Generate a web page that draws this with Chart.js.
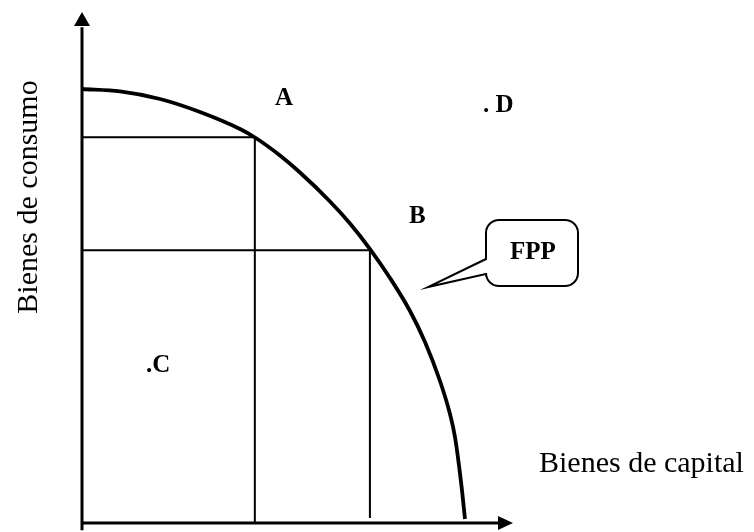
<!DOCTYPE html>
<html>
<head>
<meta charset="utf-8">
<script src="https://cdn.jsdelivr.net/npm/chart.js@4/dist/chart.umd.min.js"></script>
<style>
  html, body { margin: 0; padding: 0; background: #fff; }
  canvas { display: block; }
</style>
</head>
<body>
<canvas id="fpp" width="754" height="532"></canvas>
<script>
// frontera de posibilidades de produccion (escala 0-100)
const capitalGoods = [0, 8.82, 18.1, 27.38, 36.66, 40.14, 45.94, 50.58, 57.54, 62.18, 66.82, 71.46, 76.1, 79.58, 83.06, 85.38, 86.54, 88.05, 88.86];
const consumerGoods = [84.93, 84.46, 82.97, 80.43, 77.1, 75.44, 71.92, 68.59, 62.92, 58.61, 53.62, 47.95, 41.49, 35.42, 27.79, 21.33, 16.83, 7.24, 0.78];

// combinaciones A y B sobre la frontera (lineas guia)
const guideNames = ['A', 'B'];
const guideX = [40.1, 66.8];
const guideY = [75.5, 53.4];
const guideBottom = [0, 1.0];

const frontier = capitalGoods.map((v, i) => ({ x: v, y: consumerGoods[i] }));

const guides = guideNames.map((name, i) => ({
  label: 'guia ' + name,
  data: [
    { x: 0, y: guideY[i] },
    { x: guideX[i], y: guideY[i] },
    { x: guideX[i], y: guideBottom[i] }
  ],
  borderColor: '#000',
  borderWidth: 2,
  pointRadius: 0,
  tension: 0,
  clip: false
}));

const axisStyle = {
  borderColor: '#000',
  borderWidth: 3,
  pointRadius: 0,
  clip: false
};

// flechas, textos y globo "FPP"
const drawExtras = {
  id: 'drawExtras',
  afterDatasetsDraw(chart) {
    const { ctx, scales: { x, y } } = chart;
    const x0 = x.getPixelForValue(0), y0 = y.getPixelForValue(0);
    const yTop = y.getPixelForValue(100), xEnd = x.getPixelForValue(100);
    ctx.save();
    ctx.fillStyle = '#000';
    ctx.strokeStyle = '#000';

    ctx.beginPath();
    ctx.moveTo(x0, yTop);
    ctx.lineTo(x0 - 8, yTop + 14);
    ctx.lineTo(x0 + 8, yTop + 14);
    ctx.closePath();
    ctx.fill();

    ctx.beginPath();
    ctx.moveTo(xEnd, y0);
    ctx.lineTo(xEnd - 15, y0 - 7);
    ctx.lineTo(xEnd - 15, y0 + 7);
    ctx.closePath();
    ctx.fill();

    // globo
    const L = 486, R = 578, T = 220, B = 286, r = 13;
    ctx.beginPath();
    ctx.moveTo(L + r, T);
    ctx.lineTo(R - r, T);
    ctx.arcTo(R, T, R, T + r, r);
    ctx.lineTo(R, B - r);
    ctx.arcTo(R, B, R - r, B, r);
    ctx.lineTo(L + r, B);
    ctx.arcTo(L, B, L, B - r, r);
    ctx.lineTo(L, 274);
    ctx.lineTo(428, 287);
    ctx.lineTo(L, 259);
    ctx.lineTo(L, T + r);
    ctx.arcTo(L, T, L + r, T, r);
    ctx.closePath();
    ctx.fillStyle = '#fff';
    ctx.fill();
    ctx.lineWidth = 2;
    ctx.stroke();

    ctx.fillStyle = '#000';
    ctx.textBaseline = 'alphabetic';
    ctx.font = 'bold 25px "Liberation Serif", "Times New Roman", serif';
    ctx.fillText('A', 275, 105);
    ctx.fillText('B', 409, 223);
    ctx.fillText('.C', 146, 372);
    ctx.fillText('. D', 483, 112);
    ctx.fillText('FPP', 510, 259);

    ctx.font = '30px "Liberation Serif", "Times New Roman", serif';
    ctx.fillText('Bienes de capital', 539, 472);

    ctx.translate(37, 197);
    ctx.rotate(-Math.PI / 2);
    ctx.textAlign = 'center';
    ctx.fillText('Bienes de consumo', 0, 0);
    ctx.restore();
  }
};

const ctx = document.getElementById('fpp').getContext('2d');
new Chart(ctx, {
  type: 'line',
  data: {
    datasets: [
      {
        label: 'FPP',
        data: frontier,
        borderColor: '#000',
        borderWidth: 3.8,
        pointRadius: 0,
        cubicInterpolationMode: 'monotone',
        clip: false
      },
      ...guides,
      { label: 'eje x', data: [{ x: -0.2, y: 0 }, { x: 97, y: 0 }], ...axisStyle },
      { label: 'eje y', data: [{ x: 0, y: -1.4 }, { x: 0, y: 97 }], ...axisStyle }
    ]
  },
  options: {
    responsive: false,
    animation: false,
    layout: { padding: { left: 82, right: 241, top: 12, bottom: 9 } },
    scales: {
      x: { type: 'linear', min: 0, max: 100, display: false },
      y: { type: 'linear', min: 0, max: 100, display: false }
    },
    plugins: {
      legend: { display: false },
      tooltip: { enabled: false }
    }
  },
  plugins: [drawExtras]
});
</script>
</body>
</html>
